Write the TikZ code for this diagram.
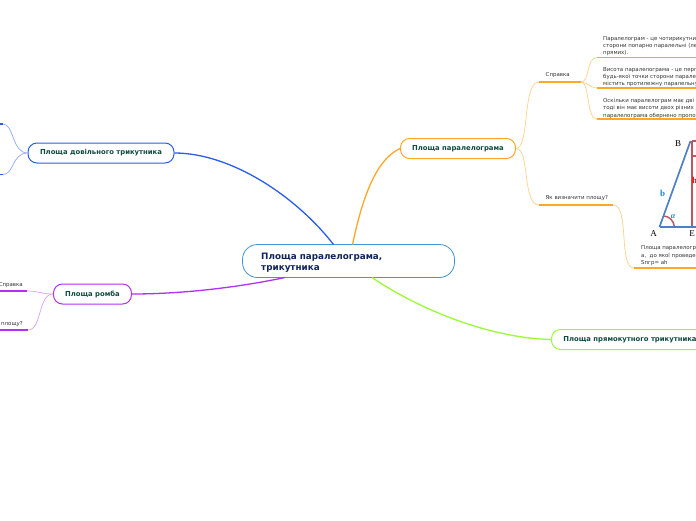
\documentclass[tikz,border=0pt]{standalone}
\usepackage{fontspec}
\setmainfont{DejaVu Sans}
\newfontfamily\serifletters{Liberation Serif}
\definecolor{cblue}{HTML}{2A5CF0}
\definecolor{lblue}{HTML}{8FA8FF}
\definecolor{corange}{HTML}{FFA726}
\definecolor{lorange}{HTML}{FFD08A}
\definecolor{cpurple}{HTML}{B030F5}
\definecolor{lpurple}{HTML}{D9A0FA}
\definecolor{cgreen}{HTML}{9CFA35}
\definecolor{croot}{HTML}{3F95D8}
\definecolor{tdark}{HTML}{0F4B3F}
\definecolor{tnavy}{HTML}{10245A}
\definecolor{tgrey}{HTML}{333333}
\definecolor{figblue}{HTML}{4F80C4}
\definecolor{figred}{HTML}{BE5560}
\definecolor{figlabel}{HTML}{1E88D8}
\newcommand{\tlabel}[1]{\raisebox{-0.8pt}{#1}}
\tikzset{
 x=1pt,y=-1pt,
 topicbox/.style={draw=#1,line width=1pt,rounded corners=9pt,fill=white,inner sep=0pt,text=tdark,font=\bfseries\fontsize{6.85}{8}\selectfont,minimum height=20pt,align=center},
 rootbox/.style={draw=croot,line width=.8pt,rounded corners=15pt,fill=white,inner sep=0pt,minimum height=33pt,minimum width=212pt},
 lab/.style={anchor=north west,inner sep=0pt,text=tgrey,font=\fontsize{5.45}{7.4}\selectfont,align=left},
 link/.style={draw=#1,line width=1.3pt},
 sub/.style={draw=#1,line width=.7pt},
 under/.style={draw=#1,line width=1.2pt},
}
\begin{document}
\begin{tikzpicture}
\useasboundingbox (0,0) rectangle (696,520);
\clip (0,0) rectangle (696,520);
\coordinate (rootN1) at (333.5,244.5);
\coordinate (rootN2) at (352.5,244.5);
\coordinate (rootS1) at (285,277.5);
\coordinate (rootS2) at (372,277.5);
\node[rootbox] (root) at (348.5,261) {};
\node[anchor=north west,inner sep=0pt,text=tnavy,font=\bfseries\fontsize{8.8}{11}\selectfont,align=left] (roottext) at (261,252.5) {Площа паралелограма,\\трикутника};
\node[topicbox=corange,minimum width=115pt] (par) at (458,148.5) {\tlabel{Площа паралелограма}};
\node[topicbox=cblue,minimum width=146pt] (tri) at (101,153) {\tlabel{Площа довільного трикутника}};
\node[topicbox=cpurple,minimum width=78pt] (romb) at (92.5,294) {\tlabel{Площа ромба}};
\node[topicbox=cgreen,minimum width=157pt,anchor=west] (rect) at (551,339.5) {\tlabel{Площа прямокутного трикутника}};
\draw[link=corange] (rootN2) .. controls (362,200) and (375,160) .. (par.west);
\draw[link=cblue] (rootN1) .. controls (295,195) and (230,153) .. (tri.east);
\draw[link=cpurple] (rootS1) .. controls (235,288) and (180,294) .. (romb.east);
\draw[link=cgreen] (rootS2) .. controls (420,310) and (490,338) .. (rect.west);
% parallelogram branch
\coordinate (sprL) at (539,82);\coordinate (sprR) at (581,82);
\coordinate (wieL) at (539,205);\coordinate (wieR) at (613,205);
\draw[sub=lorange] (par.east) .. controls (530,148) and (522,82) .. (sprL);
\draw[sub=lorange] (par.east) .. controls (530,148) and (522,205) .. (wieL);
\draw[under=corange] (sprL) -- (sprR);
\draw[under=corange] (wieL) -- (wieR);
\node[lab] (t1) at (545.5,72.5) {Справка};
\node[lab] (t2) at (545.5,195) {Як визначити площу?};
\coordinate (a1) at (597,57.5);\coordinate (a2) at (597,88);\coordinate (a3) at (597,119);
\coordinate (a1e) at (696,57.5);\coordinate (a2e) at (696,88);\coordinate (a3e) at (696,119);
\draw[sub=lorange] (sprR) .. controls (590,82) and (586,57.5) .. (a1);
\draw[sub=lorange] (sprR) .. controls (588,82) and (590,88) .. (a2);
\draw[sub=lorange] (sprR) .. controls (590,82) and (586,119) .. (a3);
\draw[under=corange] (a1) -- (a1e);
\draw[under=corange] (a2) -- (a2e);
\draw[under=corange] (a3) -- (a3e);
\node[lab] (p1) at (603,36) {Паралелограм - це чотирикутник, у якого\\сторони попарно паралельні (лежать на\\прямих).};
\node[lab] (p2) at (603,67) {Висота паралелограма - це перпендикуляр\\будь-якої точки сторони паралелограма\\містить протилежну паралельну сторону};
\node[lab] (p3) at (603,98) {Оскільки паралелограм має дві пари сторін,\\тоді він має висоти двох різних довжин\\паралелограма обернено пропорційні};
\coordinate (b1) at (634,268);\coordinate (b1e) at (696,268);
\draw[sub=lorange] (wieR) .. controls (630,205) and (618,268) .. (b1);
\draw[under=corange] (b1) -- (b1e);
\node[lab] (p4) at (641,245.5) {Площа паралелограма дорівнює\\а,\ \ до якої проведена висота\\Sпгр= ah};
% triangle picture
\coordinate (A) at (659.5,227);\coordinate (B) at (690.5,141);\coordinate (Br) at (696,141);
\coordinate (E) at (692,227);\coordinate (Er) at (696,227);
\coordinate (H) at (692,141);\coordinate (Ha) at (692,156);\coordinate (Hb) at (696,156);
\coordinate (arcS) at (674.5,227);\coordinate (arcE) at (663,216);
\draw[line width=1.5pt,figred] (arcS) .. controls (673.5,220) and (669,216) .. (arcE);
\draw[line width=1.8pt,figred] (H) -- (E);
\draw[line width=1.2pt,figred] (Ha) -- (Hb);
\draw[line width=1.2pt,figred] (H) -- (Br);
\draw[line width=1.7pt,figblue] (A) -- (B);
\draw[line width=1.7pt,figblue] (A) -- (Er);
\node[inner sep=0pt,font=\serifletters\fontsize{9}{9}\selectfont] (lA) at (653.5,234) {A};
\node[inner sep=0pt,font=\serifletters\fontsize{9}{9}\selectfont] (lB) at (678,144) {B};
\node[inner sep=0pt,font=\serifletters\fontsize{9}{9}\selectfont] (lE) at (692,234) {E};
\node[inner sep=0pt,text=figlabel,font=\serifletters\bfseries\fontsize{9}{9}\selectfont] (lb) at (662.5,193.5) {b};
\node[inner sep=0pt,text=figlabel,font=\serifletters\bfseries\itshape\fontsize{8}{8}\selectfont] (la) at (673,216.5) {α};
\node[inner sep=0pt,text=red,font=\serifletters\bfseries\fontsize{9}{9}\selectfont] (lh) at (694.5,180) {h};
% blue branch
\coordinate (c1) at (0,124);\coordinate (c1e) at (3,124);
\coordinate (c2) at (0,174.5);\coordinate (c2e) at (3,174.5);
\draw[sub=lblue] (tri.west) .. controls (12,153) and (14,124) .. (c1e);
\draw[sub=lblue] (tri.west) .. controls (12,153) and (14,174.5) .. (c2e);
\draw[under=cblue] (c1) -- (c1e);
\draw[under=cblue] (c2) -- (c2e);
% purple branch
\coordinate (d1) at (27,291);\coordinate (d2) at (28,330);
\coordinate (d1s) at (0,291);\coordinate (d2s) at (0,330);
\draw[sub=lpurple] (romb.west) .. controls (42,294) and (38,291) .. (d1);
\draw[sub=lpurple] (romb.west) .. controls (38,294) and (42,330) .. (d2);
\draw[under=cpurple] (d1s) -- (d1);
\draw[under=cpurple] (d2s) -- (d2);
\node[lab,anchor=north east] (q1) at (23,282.5) {Справка};
\node[lab,anchor=north east] (q2) at (23,321.5) {площу?};
\end{tikzpicture}
\end{document}
